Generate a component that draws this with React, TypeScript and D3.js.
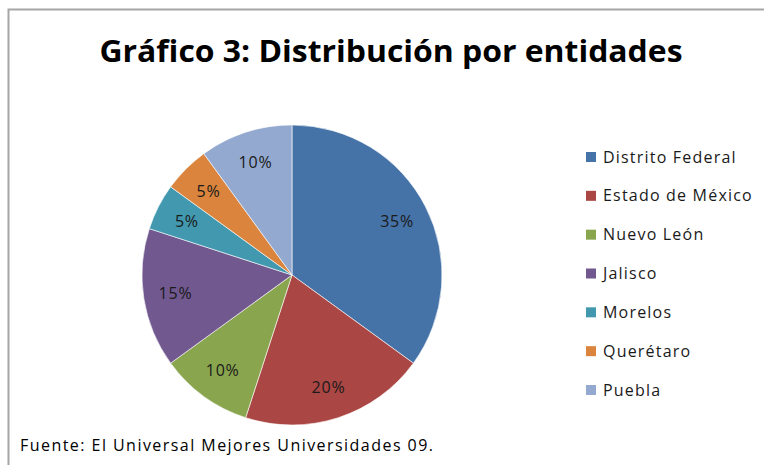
import React from 'react';
import * as d3 from 'd3';

// entidades y porcentajes
const entidades = ['Distrito Federal', 'Estado de México', 'Nuevo León', 'Jalisco', 'Morelos', 'Querétaro', 'Puebla'];
const porcentajes = [35, 20, 10, 15, 5, 5, 10];
const colores = ['#4572A7', '#AA4643', '#89A54E', '#71588F', '#4198AF', '#DB843D', '#93A9CF'];

const width = 764;
const height = 465;

const App = () => {
    const cx = 292, cy = 275, radius = 150;
    const data = entidades.map((name, i) => ({name, value: porcentajes[i]}));

    const pie = d3.pie<any>().value(d => d.value).sort(null);
    const arcs = pie(data);
    const arc = d3.arc<any>().innerRadius(0).outerRadius(radius);
    const labelArc = d3.arc<any>().innerRadius(118).outerRadius(118);

    const color = d3.scaleOrdinal<string>().domain(entidades).range(colores);
    const legendY = d3.scalePoint<string>().domain(entidades).range([157, 390]);

    const font = "'Open Sans', sans-serif";

    return (
        <svg width={width} height={height} style={{position: 'absolute', left: 0, top: 0}}>
            <rect x={0} y={0} width={width} height={height} fill="#fff"/>
            <rect x={8.5} y={9.5} width={width + 20} height={height + 20} fill="none" stroke="#a6a6a6" strokeWidth={2}/>
            <text x={391} y={62} textAnchor="middle" fontFamily={font} fontWeight="bold" fontSize={30}
                  textLength={583} lengthAdjust="spacingAndGlyphs" fill="#000">
                Gráfico 3: Distribución por entidades
            </text>
            <g transform={`translate(${cx},${cy})`}>
                {arcs.map((a, i) => (
                    <path key={i} d={arc(a) as string} fill={color(a.data.name)} stroke="#fff" strokeWidth={0.6}/>
                ))}
                {arcs.map((a, i) => {
                    const [x, y] = labelArc.centroid(a);
                    return (
                        <text key={'l' + i} x={x} y={y} dy="0.35em" textAnchor="middle" fontFamily={font}
                              fontSize={16} letterSpacing={0.8} fill="#1a1a1a">
                            {a.data.value}%
                        </text>
                    );
                })}
            </g>
            <g>
                {entidades.map(name => (
                    <g key={name} transform={`translate(586,${legendY(name)})`}>
                        <rect x={0} y={-5} width={10} height={10} fill={color(name)}/>
                        <text x={17} y={0} dy="0.35em" fontFamily={font} fontSize={16} letterSpacing={1.2}
                              fill="#1a1a1a">{name}</text>
                    </g>
                ))}
            </g>
            <text x={20} y={451} fontFamily={font} fontSize={16} textLength={413} lengthAdjust="spacing" fill="#000">
                Fuente: El Universal Mejores Universidades 09.
            </text>
        </svg>
    );
};

export default App;
